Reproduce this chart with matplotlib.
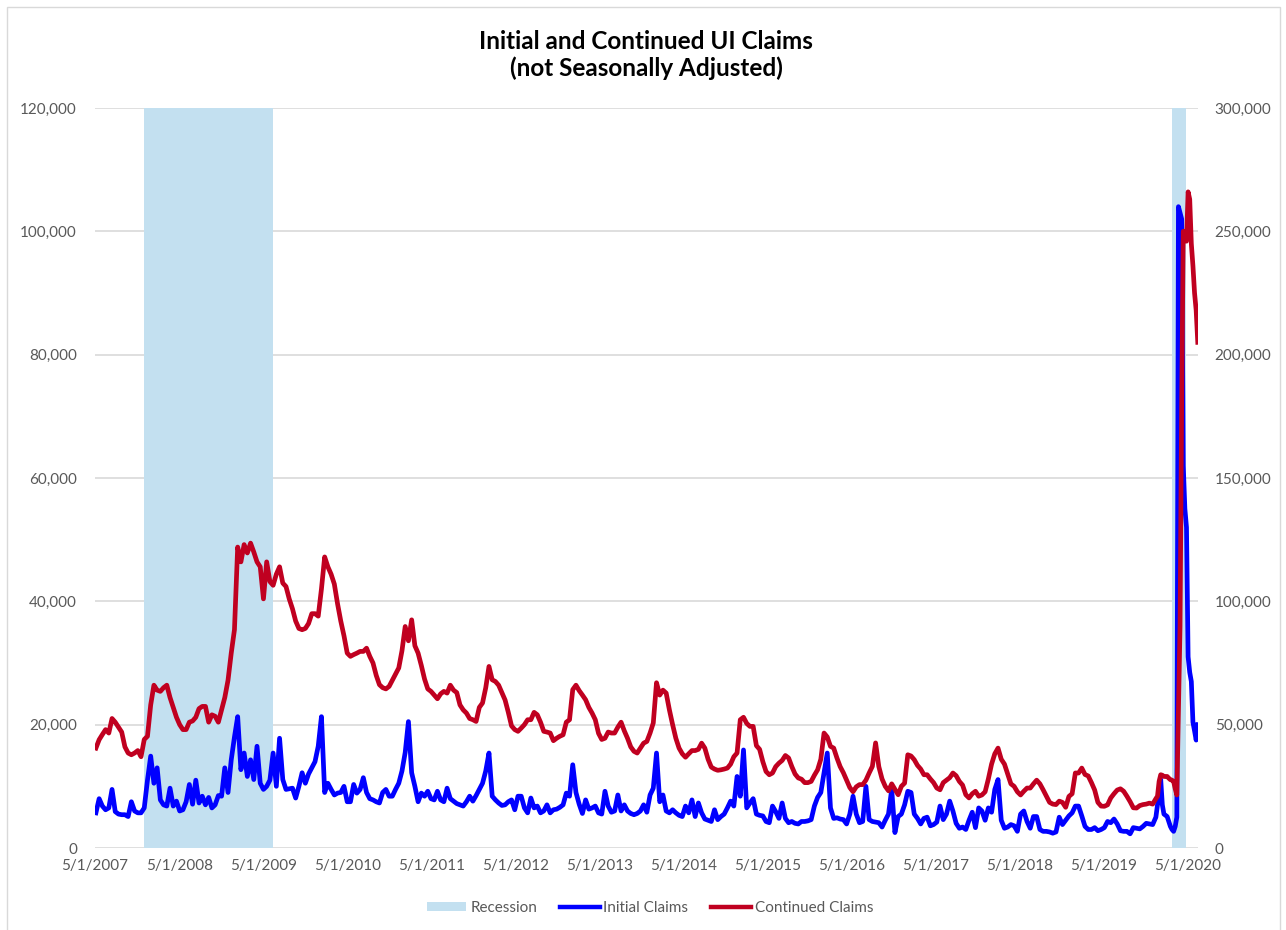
import matplotlib
matplotlib.use("Agg")
import matplotlib.pyplot as plt
from matplotlib.patches import Patch, Rectangle
from matplotlib.lines import Line2D
from matplotlib.ticker import FuncFormatter
import pandas as pd

plt.rcParams['font.family'] = ['Lato', 'DejaVu Sans']

# claims in thousands, read every second week from w/e 5/5/2007 to 12/14/2019
initial_biweekly = [
    5.7, 8.0, 6.8, 6.2, 6.5, 9.5, 5.9, 5.5, 5.4, 5.4,
    5.1, 7.5, 6.0, 5.7, 5.7, 6.5, 11.0, 14.9, 10.5, 13.0,
    7.8, 7.0, 6.8, 9.7, 6.8, 7.6, 6.0, 6.2, 7.5, 10.3,
    7.1, 11.0, 7.3, 8.4, 7.0, 8.2, 6.5, 7.0, 8.5, 8.4,
    13.0, 9.0, 14.3, 18.0, 21.3, 12.7, 15.4, 11.6, 14.3, 11.1,
    16.5, 10.5, 9.5, 10.0, 11.0, 15.4, 10.0, 17.8, 11.1, 9.5,
    9.6, 9.7, 8.1, 10.0, 12.2, 10.5, 12.0, 13.0,
    14.0, 16.5,
    21.3, 9.0, 10.5, 9.5, 8.6, 8.9, 9.0, 10.0, 7.5, 7.5,
    10.3, 8.9, 9.5, 11.4, 9.0, 8.0, 7.8, 7.5, 7.3, 9.0,
    9.5, 8.4, 8.4, 9.5, 10.5, 12.5, 15.5, 20.5, 12.2, 10.0,
    7.5, 8.9, 8.4, 9.2, 8.0, 7.8, 9.2, 7.8, 7.5, 9.7,
    8.0, 7.6, 7.2, 7.0, 6.8, 7.5, 8.4, 7.6, 8.5, 9.5,
    10.5, 12.5, 15.4, 8.4, 7.8, 7.3, 6.9, 7.0, 7.5, 7.8,
    6.2, 8.4, 8.4, 6.5, 5.7, 8.1, 6.5,
    6.8, 5.7, 6.0, 7.0, 5.7, 6.2, 6.3, 6.6, 7.0, 8.9,
    8.4, 13.5, 9.0, 7.1, 5.6, 7.8, 6.3, 6.5, 6.8, 5.7,
    5.5, 9.2, 6.8, 5.8, 6.0, 8.6, 6.0, 7.0, 6.0, 5.6,
    5.4, 5.6, 6.0, 7.0, 5.8, 8.6, 9.7, 15.4, 7.5, 8.6,
    6.0, 5.7, 6.2, 5.7, 5.3, 5.1, 6.8, 5.7, 7.8, 5.1,
    7.3, 5.7, 4.7, 4.5, 4.3, 6.2, 4.6, 5.1, 5.5, 6.5,
    7.6, 6.8, 11.6, 8.4, 15.9, 6.5, 7.3, 8.0, 5.5,
    5.3, 5.2, 4.3, 4.1, 6.8, 5.9, 4.8, 7.3, 4.8, 4.1,
    4.3, 4.0, 3.9, 4.3, 4.3, 4.4, 4.6, 6.8, 8.2, 9.0,
    12.2, 15.4, 6.5, 4.8, 4.9, 4.7, 4.6, 3.9, 5.5, 8.4,
    5.5, 4.1, 4.3, 10.0, 4.6, 4.3, 4.2, 4.1, 3.4, 4.5,
    5.5, 9.5, 2.5, 5.1, 5.5, 7.0, 9.2, 9.0, 5.5, 4.8,
    3.9, 4.8, 5.0, 3.6, 3.8, 4.2, 6.8, 4.6, 5.5, 7.6,
    6.0, 4.0, 3.2, 3.4, 3.0, 4.5, 5.8, 3.3, 6.5,
    6.0, 4.5, 6.5, 5.8, 9.5, 11.1, 4.5, 3.2, 3.4, 3.8,
    3.6, 2.7, 5.5, 6.0, 4.3, 3.2, 5.1, 5.1, 3.0, 2.7,
    2.7, 2.6, 2.4, 2.6, 5.0, 3.8, 4.5, 5.2, 5.7, 6.8,
    6.8, 5.2, 3.5, 3.0, 3.0, 3.3, 2.8, 3.0, 3.3, 4.3,
    4.1, 4.7, 3.9, 2.8, 2.7, 2.7, 2.3, 3.3, 3.2, 3.1,
    3.5, 4.0, 3.9, 3.8, 5.0,
]
continued_biweekly = [
    40.5, 43.9, 46, 48, 46.6, 52.5, 51, 49, 47, 41,
    38.5, 37.8, 38.5, 39.5, 37, 44, 45.3, 58, 66, 64,
    63.5, 65, 66, 61, 57, 53, 50, 48, 48, 51,
    51.5, 53, 56.5, 57.4, 57.4, 51, 54, 53.4, 51, 56,
    61, 68, 79, 88.5, 122, 116, 123, 119.6, 123.6, 120,
    116, 114, 101, 116, 108, 106.5, 111, 114, 107.4, 106,
    101, 97, 92, 89, 88.5, 89, 91, 95,
    95, 94,
    105, 118, 114, 111, 107, 99, 92, 86, 79, 77.7,
    78.4, 79, 79.7, 79.7, 81, 77.7, 75, 70, 66.2, 65,
    64.5, 65.5, 68, 70.5, 73, 80, 89.8, 84, 92.5, 82,
    79, 74, 68.5, 64.5, 63.5, 62, 60.5, 62.5, 63.5, 62.8,
    66, 64, 63, 58, 56, 54.7, 52.5, 52, 51.3, 57,
    58.8, 65, 73.6, 68.2, 67.5, 66, 63, 60, 55, 49.5,
    48, 47.3, 48.6, 50, 52, 52, 55,
    54, 51, 47.3, 47, 46.6, 43.5, 44.5, 45.3, 45.9, 51,
    52, 64.2, 66, 63.8, 62, 60.1, 57, 54.7, 52, 46.5,
    44, 44.5, 47, 46.6, 46.6, 49, 51, 47.5, 44.5, 41,
    39.2, 38.5, 40.5, 42.5, 43.2, 46.6, 50.7, 67, 62, 64,
    62.8, 56, 50, 44.5, 40.5, 38.2, 36.8, 38.2, 39.5, 39.5,
    40, 42.5, 40.5, 36, 32.8, 32, 31.5, 31.7, 32, 32.4,
    34, 37, 38.5, 52, 53, 50.5, 49.3, 49.3, 41.5,
    40, 35, 31, 29.7, 30.4, 33, 34.4, 35.5, 37.5, 36.5,
    33, 30, 28.4, 27.9, 26.5, 26.5, 27, 29.5, 31.7, 36,
    46.6, 45, 41.2, 40.5, 36.5, 33, 30.5, 27.5, 24.5, 22.8,
    24.8, 25.7, 25.7, 27.5, 30.4, 33.1, 42.6, 33, 28, 25,
    23.2, 26, 23.8, 21.6, 25, 26.3, 37.8, 37.3, 35.8, 33.5,
    32, 29.7, 29.7, 28, 26.5, 24.3, 23.6, 26.5, 27.5, 28.5,
    30.4, 29.3, 27, 25.5, 21.6, 20.3, 22, 23, 21,
    21.5, 22.8, 28, 34, 38.2, 40.5, 36, 34, 30, 26,
    25, 22.8, 21.5, 23, 24.3, 24.3, 26, 27.5, 26, 23.6,
    21, 18.5, 17.8, 17.6, 19, 18.5, 16.5, 20.9, 22, 30.4,
    30.4, 32.4, 29.8, 29.2, 26.5, 23.5, 18.5, 17, 16.9, 17.5,
    20.3, 22, 23.5, 24, 23, 21, 18.8, 16.3, 16.2, 17.2,
    17.6, 17.8, 18.2, 17.8, 20,
]

# weekly readings, w/e 12/21/2019 to 6/13/2020 (thousands)
initial_2020 = [7.0, 8.5, 11.1, 7.0, 5.5, 5.3, 5.1, 4.3, 3.5, 3.0, 2.7, 3.5, 5.0,
                104, 103, 102, 62, 55, 52, 31, 28.5, 27, 20.4, 19, 17.5, 20]
continued_2020 = [21, 27, 29.7, 29.5, 29, 29, 29, 28.3, 27.7, 27.5, 27, 24, 21.5,
                  55, 90, 180, 250, 250, 246, 266, 263, 245, 236, 225, 218, 205]

recessions = [('2007-12-01', '2009-06-13'), ('2020-02-22', '2020-04-25')]

dates = pd.date_range('2007-05-05', periods=len(initial_biweekly), freq='14D')
dates_2020 = pd.date_range(dates[-1] + pd.Timedelta(days=7), periods=len(initial_2020), freq='7D')
all_dates = dates.append(dates_2020)
initial = [v * 1000 for v in initial_biweekly + initial_2020]
continued = [v * 1000 for v in continued_biweekly + continued_2020]

blue = '#0000FF'
red = '#C00020'
shade = '#C3E0F0'
grey_txt = '#595959'

fig = plt.figure(figsize=(12.86, 9.30), dpi=100)
ax = fig.add_axes([95 / 1286, 1 - 848 / 930, (1198 - 95) / 1286, (848 - 108) / 930])
ax2 = ax.twinx()

for start, end in recessions:
    ax.axvspan(pd.Timestamp(start), pd.Timestamp(end), color=shade, lw=0, zorder=1)

ax.plot(all_dates, initial, color=blue, lw=3.4, zorder=3, solid_joinstyle='round')
ax2.plot(all_dates, continued, color=red, lw=3.4, zorder=3, solid_joinstyle='round')

ax.set_xlim(pd.Timestamp('2007-05-01'), pd.Timestamp('2020-06-14'))
ax.set_ylim(0, 120000)
ax2.set_ylim(0, 300000)
ax.set_yticks(range(0, 120001, 20000))
ax2.set_yticks(range(0, 300001, 50000))

fmt = FuncFormatter(lambda v, p: f'{v:,.0f}')
ax.yaxis.set_major_formatter(fmt)
ax2.yaxis.set_major_formatter(fmt)

xt = pd.date_range('2007-05-01', '2020-05-01', freq='12MS')
ax.set_xticks(xt)
ax.set_xticklabels([f'{d.month}/{d.day}/{d.year}' for d in xt])

ax.grid(axis='y', color='#D9D9D9', lw=1.2, zorder=0)
ax.set_axisbelow(True)
for a in (ax, ax2):
    for s in a.spines.values():
        s.set_visible(False)
ax.tick_params(axis='x', length=0, pad=8, labelsize=11, labelcolor=grey_txt)
ax.tick_params(axis='y', length=0, pad=13, labelsize=11, labelcolor=grey_txt)
ax2.tick_params(axis='y', length=0, pad=12, labelsize=11, labelcolor=grey_txt)

fig.text(646 / 1286, 1 - 55 / 930, 'Initial and Continued UI Claims\n(not Seasonally Adjusted)',
         ha='center', va='center', fontsize=17.5, fontweight='bold', linespacing=1.2)

handles = [Patch(facecolor=shade, edgecolor='none'),
           Line2D([], [], color=blue, lw=3.2),
           Line2D([], [], color=red, lw=3.2)]
fig.legend(handles, ['Recession', 'Initial Claims', 'Continued Claims'],
           loc='center', bbox_to_anchor=(650 / 1286, 1 - 908 / 930), ncol=3,
           frameon=False, fontsize=11, labelcolor=grey_txt, handlelength=2.6,
           handleheight=0.55, handletextpad=0.25, columnspacing=1.5)

fig.add_artist(Rectangle((7 / 1286, -0.01), 1273 / 1286, 1 - 7 / 930 + 0.01,
                         transform=fig.transFigure, fill=False, edgecolor='#D9D9D9', lw=1))

fig.savefig('out.png', dpi=100)
